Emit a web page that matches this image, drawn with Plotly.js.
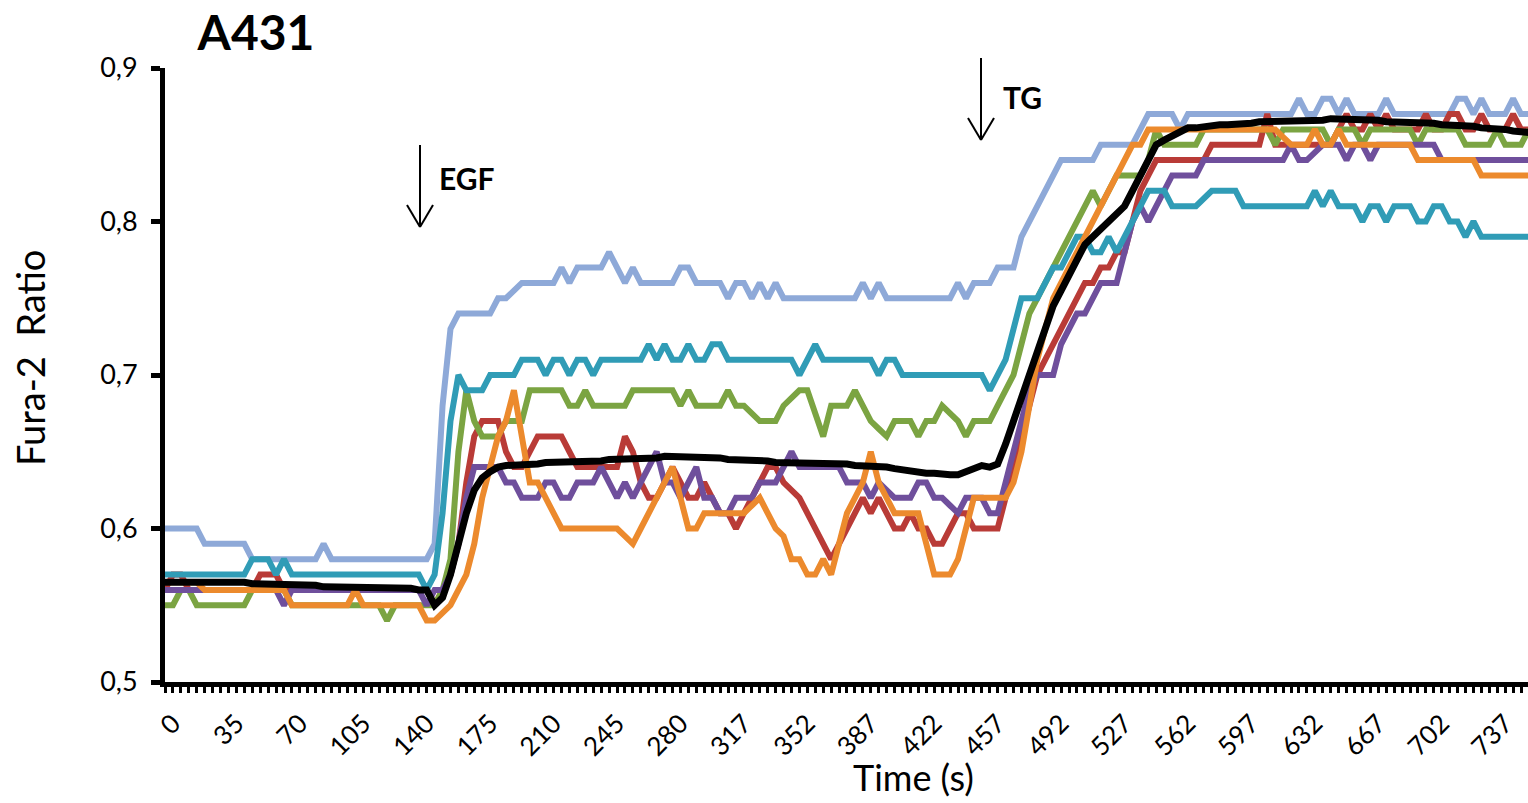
<!DOCTYPE html>
<html>
<head>
<meta charset="utf-8">
<script src="https://cdn.plot.ly/plotly-3.0.1.min.js"></script>
<style>
  html, body { margin: 0; padding: 0; background: #fff; overflow: hidden; }
  #chart { width: 1528px; height: 803px; }
</style>
</head>
<body>
<div id="chart"></div>
<script>
// ---- data ----
const timeLabels = ['0','35','70','105','140','175','210','245','280','317','352','387','422','457','492','527','562','597','632','667','702','737'];
const pointsPerLabel = 8;
const yTickValues = [0.5, 0.6, 0.7, 0.8, 0.9];
const yTickLabels = ['0,5', '0,6', '0,7', '0,8', '0,9'];

const meanCurve = [
 0.565,0.565,0.565,0.565,0.566,0.566,0.566,0.565,0.565,0.565,
 0.565,0.564,0.564,0.564,0.564,0.563,0.563,0.563,0.563,0.563,
 0.562,0.562,0.562,0.562,0.562,0.562,0.561,0.561,0.561,0.561,
 0.561,0.561,0.560,0.560,0.550,0.555,0.570,0.590,0.610,0.625,
 0.633,0.637,0.640,0.641,0.641,0.642,0.642,0.642,0.643,0.643,
 0.643,0.643,0.644,0.644,0.644,0.644,0.645,0.645,0.645,0.645,
 0.645,0.646,0.646,0.647,0.647,0.647,0.647,0.647,0.646,0.646,
 0.646,0.645,0.645,0.645,0.644,0.644,0.644,0.643,0.643,0.643,
 0.643,0.643,0.642,0.642,0.642,0.642,0.642,0.641,0.641,0.641,
 0.641,0.640,0.639,0.638,0.637,0.637,0.636,0.636,0.635,0.635,
 0.635,0.637,0.640,0.641,0.640,0.642,0.655,0.670,0.685,0.700,
 0.715,0.730,0.745,0.755,0.765,0.775,0.785,0.790,0.795,0.800,
 0.805,0.810,0.820,0.830,0.840,0.850,0.853,0.856,0.859,0.861,
 0.861,0.862,0.862,0.863,0.863,0.863,0.864,0.864,0.865,0.865,
 0.865,0.865,0.866,0.866,0.866,0.866,0.866,0.867,0.867,0.867,
 0.866,0.866,0.866,0.866,0.865,0.865,0.865,0.865,0.864,0.864,
 0.864,0.863,0.863,0.862,0.862,0.862,0.861,0.861,0.860,0.860,
 0.859,0.859,0.858
];
const cellLightBlue = [
 0.60,0.60,0.60,0.60,0.60,0.59,0.59,0.59,0.59,0.59,
 0.59,0.58,0.58,0.58,0.58,0.58,0.58,0.58,0.58,0.58,
 0.59,0.58,0.58,0.58,0.58,0.58,0.58,0.58,0.58,0.58,
 0.58,0.58,0.58,0.58,0.59,0.68,0.73,0.74,0.74,0.74,
 0.74,0.74,0.75,0.75,0.755,0.76,0.76,0.76,0.76,0.76,
 0.77,0.76,0.77,0.77,0.77,0.77,0.78,0.77,0.76,0.77,
 0.76,0.76,0.76,0.76,0.76,0.77,0.77,0.76,0.76,0.76,
 0.76,0.75,0.76,0.76,0.75,0.76,0.75,0.76,0.75,0.75,
 0.75,0.75,0.75,0.75,0.75,0.75,0.75,0.75,0.76,0.75,
 0.76,0.75,0.75,0.75,0.75,0.75,0.75,0.75,0.75,0.75,
 0.76,0.75,0.76,0.76,0.76,0.77,0.77,0.77,0.79,0.80,
 0.81,0.82,0.83,0.84,0.84,0.84,0.84,0.84,0.85,0.85,
 0.85,0.85,0.85,0.86,0.87,0.87,0.87,0.87,0.86,0.87,
 0.87,0.87,0.87,0.87,0.87,0.87,0.87,0.87,0.87,0.87,
 0.87,0.87,0.87,0.88,0.87,0.87,0.88,0.88,0.87,0.88,
 0.87,0.87,0.87,0.87,0.88,0.87,0.87,0.87,0.87,0.87,
 0.87,0.87,0.87,0.88,0.88,0.87,0.88,0.87,0.87,0.87,
 0.88,0.87,0.87
];
const cellRed = [
 0.56,0.57,0.57,0.56,0.56,0.56,0.56,0.56,0.56,0.56,
 0.56,0.56,0.57,0.57,0.57,0.56,0.56,0.56,0.56,0.56,
 0.56,0.56,0.56,0.56,0.56,0.56,0.56,0.56,0.56,0.56,
 0.56,0.56,0.56,0.56,0.55,0.56,0.57,0.59,0.63,0.66,
 0.67,0.67,0.67,0.65,0.64,0.64,0.65,0.66,0.66,0.66,
 0.66,0.65,0.64,0.64,0.64,0.64,0.64,0.64,0.66,0.65,
 0.63,0.62,0.62,0.63,0.64,0.63,0.62,0.62,0.63,0.62,
 0.61,0.61,0.60,0.61,0.62,0.63,0.64,0.64,0.63,0.625,
 0.62,0.61,0.60,0.59,0.58,0.59,0.60,0.61,0.62,0.61,
 0.62,0.61,0.60,0.60,0.61,0.60,0.60,0.59,0.59,0.60,
 0.61,0.61,0.60,0.60,0.60,0.60,0.62,0.64,0.66,0.68,
 0.70,0.71,0.72,0.73,0.74,0.75,0.76,0.76,0.77,0.77,
 0.78,0.78,0.80,0.82,0.83,0.84,0.84,0.84,0.84,0.84,
 0.84,0.84,0.85,0.85,0.85,0.85,0.85,0.85,0.85,0.87,
 0.85,0.85,0.85,0.85,0.85,0.85,0.85,0.85,0.86,0.87,
 0.86,0.86,0.87,0.86,0.87,0.86,0.86,0.86,0.86,0.87,
 0.86,0.86,0.87,0.87,0.86,0.86,0.87,0.86,0.86,0.86,
 0.87,0.86,0.86
];
const cellGreen = [
 0.55,0.55,0.56,0.56,0.55,0.55,0.55,0.55,0.55,0.55,
 0.55,0.56,0.56,0.56,0.56,0.56,0.55,0.55,0.55,0.55,
 0.55,0.55,0.55,0.55,0.55,0.55,0.55,0.55,0.54,0.55,
 0.55,0.55,0.55,0.55,0.55,0.56,0.58,0.65,0.69,0.67,
 0.66,0.66,0.66,0.67,0.67,0.67,0.69,0.69,0.69,0.69,
 0.69,0.68,0.68,0.69,0.68,0.68,0.68,0.68,0.68,0.69,
 0.69,0.69,0.69,0.69,0.69,0.68,0.69,0.68,0.68,0.68,
 0.68,0.69,0.68,0.68,0.675,0.67,0.67,0.67,0.68,0.685,
 0.69,0.69,0.675,0.66,0.68,0.68,0.68,0.69,0.68,0.67,
 0.665,0.66,0.67,0.67,0.67,0.66,0.67,0.67,0.68,0.675,
 0.67,0.66,0.67,0.67,0.67,0.68,0.69,0.70,0.72,0.74,
 0.75,0.76,0.77,0.78,0.79,0.80,0.81,0.82,0.81,0.82,
 0.83,0.83,0.83,0.83,0.84,0.86,0.85,0.85,0.85,0.85,
 0.85,0.86,0.86,0.86,0.86,0.86,0.86,0.86,0.86,0.86,
 0.85,0.86,0.86,0.86,0.86,0.86,0.86,0.85,0.86,0.86,
 0.86,0.85,0.86,0.86,0.86,0.86,0.86,0.86,0.85,0.86,
 0.86,0.86,0.86,0.86,0.85,0.85,0.85,0.85,0.86,0.85,
 0.85,0.85,0.86
];
const cellPurple = [
 0.56,0.56,0.56,0.56,0.56,0.56,0.56,0.56,0.56,0.56,
 0.56,0.56,0.56,0.56,0.56,0.55,0.56,0.56,0.56,0.56,
 0.56,0.56,0.56,0.56,0.56,0.56,0.56,0.56,0.56,0.56,
 0.56,0.56,0.56,0.55,0.56,0.56,0.57,0.59,0.62,0.64,
 0.64,0.64,0.64,0.63,0.63,0.62,0.62,0.62,0.63,0.63,
 0.62,0.62,0.63,0.63,0.63,0.64,0.63,0.62,0.63,0.62,
 0.63,0.64,0.65,0.63,0.63,0.62,0.63,0.64,0.62,0.62,
 0.61,0.61,0.62,0.62,0.62,0.63,0.63,0.63,0.64,0.65,
 0.64,0.64,0.64,0.64,0.64,0.64,0.63,0.63,0.63,0.62,
 0.63,0.625,0.62,0.62,0.62,0.63,0.63,0.62,0.62,0.615,
 0.61,0.62,0.62,0.62,0.61,0.61,0.63,0.65,0.67,0.69,
 0.70,0.70,0.70,0.72,0.73,0.74,0.74,0.75,0.76,0.76,
 0.76,0.78,0.80,0.81,0.80,0.81,0.82,0.83,0.83,0.83,
 0.83,0.84,0.84,0.84,0.84,0.84,0.84,0.84,0.84,0.84,
 0.84,0.84,0.85,0.84,0.84,0.845,0.85,0.85,0.85,0.84,
 0.85,0.85,0.84,0.85,0.85,0.85,0.85,0.85,0.85,0.85,
 0.85,0.84,0.84,0.84,0.84,0.84,0.84,0.84,0.84,0.84,
 0.84,0.84,0.84
];
const cellTeal = [
 0.57,0.57,0.57,0.57,0.57,0.57,0.57,0.57,0.57,0.57,
 0.57,0.58,0.58,0.58,0.57,0.58,0.57,0.57,0.57,0.57,
 0.57,0.57,0.57,0.57,0.57,0.57,0.57,0.57,0.57,0.57,
 0.57,0.57,0.57,0.56,0.57,0.61,0.67,0.70,0.69,0.69,
 0.69,0.70,0.70,0.70,0.70,0.71,0.71,0.71,0.70,0.71,
 0.71,0.70,0.71,0.71,0.70,0.71,0.71,0.71,0.71,0.71,
 0.71,0.72,0.71,0.72,0.71,0.71,0.72,0.71,0.71,0.72,
 0.72,0.71,0.71,0.71,0.71,0.71,0.71,0.71,0.71,0.71,
 0.70,0.71,0.72,0.71,0.71,0.71,0.71,0.71,0.71,0.71,
 0.70,0.71,0.71,0.70,0.70,0.70,0.70,0.70,0.70,0.70,
 0.70,0.70,0.70,0.70,0.69,0.70,0.71,0.73,0.75,0.75,
 0.75,0.76,0.77,0.77,0.78,0.79,0.79,0.78,0.78,0.79,
 0.78,0.79,0.80,0.81,0.82,0.82,0.82,0.81,0.81,0.81,
 0.81,0.815,0.82,0.82,0.82,0.82,0.81,0.81,0.81,0.81,
 0.81,0.81,0.81,0.81,0.81,0.82,0.81,0.82,0.81,0.81,
 0.81,0.80,0.81,0.81,0.80,0.81,0.81,0.81,0.80,0.80,
 0.81,0.81,0.80,0.80,0.79,0.80,0.79,0.79,0.79,0.79,
 0.79,0.79,0.79
];
const cellOrange = [
 0.565,0.565,0.565,0.565,0.565,0.56,0.56,0.56,0.56,0.56,
 0.56,0.56,0.56,0.56,0.56,0.56,0.55,0.55,0.55,0.55,
 0.55,0.55,0.55,0.55,0.56,0.55,0.55,0.55,0.55,0.55,
 0.55,0.55,0.55,0.54,0.54,0.545,0.55,0.56,0.57,0.59,
 0.62,0.64,0.66,0.67,0.69,0.66,0.63,0.63,0.62,0.61,
 0.60,0.60,0.60,0.60,0.60,0.60,0.60,0.60,0.595,0.59,
 0.60,0.61,0.62,0.63,0.64,0.62,0.60,0.60,0.61,0.61,
 0.61,0.61,0.61,0.61,0.615,0.62,0.61,0.60,0.595,0.58,
 0.58,0.57,0.57,0.58,0.57,0.59,0.61,0.62,0.63,0.65,
 0.63,0.62,0.61,0.61,0.61,0.61,0.59,0.57,0.57,0.57,
 0.58,0.60,0.62,0.62,0.62,0.62,0.62,0.63,0.65,0.68,
 0.71,0.73,0.75,0.76,0.77,0.78,0.79,0.80,0.81,0.82,
 0.83,0.84,0.85,0.85,0.86,0.86,0.86,0.86,0.86,0.86,
 0.86,0.86,0.86,0.86,0.86,0.86,0.86,0.86,0.86,0.86,
 0.86,0.855,0.85,0.85,0.85,0.86,0.85,0.85,0.86,0.85,
 0.85,0.85,0.85,0.85,0.85,0.85,0.85,0.85,0.84,0.84,
 0.84,0.84,0.84,0.84,0.84,0.84,0.83,0.83,0.83,0.83,
 0.83,0.83,0.83
];

// ---- build ----
const xIndex = meanCurve.map((_, i) => i);
const tickVals = timeLabels.map((_, k) => k * pointsPerLabel);

function line(name, y, color, width) {
  return { type: 'scatter', mode: 'lines', name: name, x: xIndex, y: y,
           line: { color: color, width: width }, hoverinfo: 'skip' };
}
const traces = [
  line('Cell 1', cellLightBlue, '#8EA9D8', 6),
  line('Cell 2', cellRed, '#B93B37', 6),
  line('Cell 3', cellGreen, '#7BA442', 6),
  line('Cell 4', cellPurple, '#6F4F9C', 6),
  line('Cell 5', cellTeal, '#309CB6', 6),
  line('Cell 6', cellOrange, '#EC8A2D', 6),
  line('Mean', meanCurve, '#000000', 7)
];

// pixel helpers for annotation placement (plot area 165..1528 x 68..682)
const PL = 165, PR = 1528, PT = 68, PB = 682;
const px = v => (v - PL) / (PR - PL);
const py = v => (PB - v) / (PB - PT);
function seg(x0, y0, x1, y1) {
  return { type: 'line', xref: 'paper', yref: 'paper', x0: px(x0), y0: py(y0), x1: px(x1), y1: py(y1),
           line: { color: '#000', width: 2 } };
}
const shapes = [
  seg(420, 145, 420, 227), seg(407, 205, 420, 227), seg(433, 205, 420, 227),
  seg(981, 58, 981, 140), seg(968, 118, 981, 140), seg(994, 118, 981, 140)
];

const FONT = 'Lato, "Open Sans", sans-serif';
const annotations = [
  { text: '<b>EGF</b>', xref: 'paper', yref: 'paper', x: px(437), y: py(178), xanchor: 'left', yanchor: 'middle',
    showarrow: false, font: { family: FONT, size: 30, color: '#000' } },
  { text: '<b>TG</b>', xref: 'paper', yref: 'paper', x: px(1001), y: py(97), xanchor: 'left', yanchor: 'middle',
    showarrow: false, font: { family: FONT, size: 30, color: '#000' } },
  { text: 'Fura-2\u00a0\u00a0Ratio', xref: 'paper', yref: 'paper', x: px(30), y: py(358), xanchor: 'center', yanchor: 'middle',
    textangle: -90, showarrow: false, font: { family: FONT, size: 38, color: '#000' } },
  { text: 'Time (s)', xref: 'paper', yref: 'paper', x: px(913), y: py(777), xanchor: 'center', yanchor: 'middle',
    showarrow: false, font: { family: FONT, size: 36, color: '#000' } }
];

const layout = {
  width: 1528, height: 803,
  margin: { l: PL, r: 1528 - PR, t: PT, b: 803 - PB, pad: 0 },
  paper_bgcolor: '#fff', plot_bgcolor: '#fff',
  showlegend: false,
  font: { family: FONT, color: '#000' },
  title: { text: '<b>A431</b>', font: { family: FONT, size: 48, color: '#000' },
           xref: 'container', yref: 'container', x: 256 / 1528, xanchor: 'center',
           y: 1 - 33 / 803, yanchor: 'middle' },
  xaxis: {
    range: [0, (PR - PL) / 7.93],
    tickmode: 'array', tickvals: tickVals, ticktext: timeLabels,
    tickangle: -45, tickfont: { family: FONT, size: 26, color: '#000' },
    ticklabelshift: 8, ticklabelstandoff: 5,
    ticks: 'outside', ticklen: 6, tickwidth: 3, tickcolor: '#000',
    minor: { dtick: 1, tick0: 0, ticks: 'outside', ticklen: 6, tickwidth: 3, tickcolor: '#000', showgrid: false },
    showline: true, linewidth: 5, linecolor: '#000',
    showgrid: false, zeroline: false, fixedrange: true
  },
  yaxis: {
    range: [0.5, 0.9],
    tickmode: 'array', tickvals: yTickValues, ticktext: yTickLabels,
    tickfont: { family: FONT, size: 27, color: '#000' },
    ticklabelstandoff: 8,
    ticks: 'outside', ticklen: 9, tickwidth: 5, tickcolor: '#000',
    showline: true, linewidth: 5, linecolor: '#000',
    showgrid: false, zeroline: false, fixedrange: true
  },
  shapes: shapes,
  annotations: annotations
};

Plotly.newPlot('chart', traces, layout, { displayModeBar: false, staticPlot: true });
</script>
</body>
</html>
